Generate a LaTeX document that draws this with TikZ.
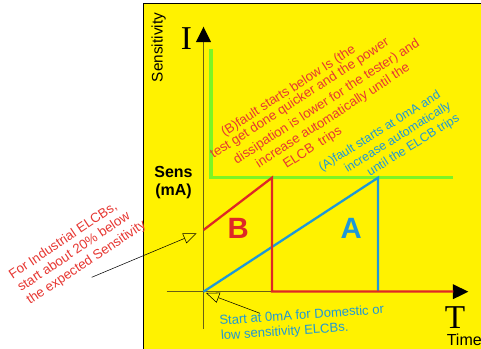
\documentclass[tikz,border=0pt]{standalone}
\usepackage{fontspec}
\setmainfont{Liberation Sans}
\newfontfamily\bigserif{Liberation Serif}
\usetikzlibrary{arrows.meta,positioning}
\definecolor{panel}{RGB}{255,242,0}
\definecolor{axisol}{RGB}{105,95,20}
\definecolor{limeg}{RGB}{125,245,35}
\definecolor{tracer}{RGB}{222,40,38}
\definecolor{traceb}{RGB}{30,152,215}
\definecolor{noter}{RGB}{230,55,50}
\tikzset{
  axis/.style      = {draw=axisol, line width=1.1pt,
                      -{Triangle[length=11.5pt, width=11pt, color=black]}},
  threshold/.style = {draw=limeg, line width=2.4pt},
  trB/.style       = {draw=tracer, line width=1.7pt},
  trA/.style       = {draw=traceb, line width=1.7pt},
  pointer/.style   = {draw=black, thin, -{Triangle[open, length=10pt, width=8pt]}},
  txtline/.style   = {anchor=base west, inner sep=0pt},
  bline/.style     = {txtline, text=noter, rotate=33, font=\fontsize{9.9}{11}\selectfont},
  aline/.style     = {txtline, text=traceb, rotate=32, font=\fontsize{9.3}{11}\selectfont},
  iline/.style     = {txtline, text=noter, rotate=33.8, font=\fontsize{10}{11}\selectfont},
  dline/.style     = {txtline, text=traceb, rotate=4, font=\fontsize{9.8}{11}\selectfont},
  big/.style       = {font=\bigserif\fontsize{25}{25}\selectfont, inner sep=0pt},
  tag/.style       = {font=\bfseries\fontsize{22}{22}\selectfont, inner sep=0pt},
}

\begin{document}
\begin{tikzpicture}[x=0.75pt, y=-0.75pt]
  \useasboundingbox (0,0) rectangle (481,349);
  \filldraw[fill=panel, draw=black, line width=0.6pt] (143.3,3.5) rectangle (485,353);

  \coordinate (o) at (203.5,291.7);
  \coordinate (ybot) at (203.5,329);
  \coordinate (ytop) at (203.5,26.7);
  \coordinate (xleft) at (166.7,291.7);
  \coordinate (xright) at (468.3,291.7);

  \draw[axis] (ybot) -- (ytop);
  \draw[axis] (xleft) -- (xright);

  \draw[threshold] (211,49.3) -- (211,177.7) -- (453.3,177.7);
  \draw[trA] (o) -- (378,177.7) -- (378,291.7);
  \draw[trB] (203.5,230) -- (272,177.7) -- (272,291.5) -- (453.3,291.5);

  \node[rotate=90, anchor=base, inner sep=0pt, font=\fontsize{11.5}{12}\selectfont] (sensy) at (162.5,47.5) {Sensitivity};
  \node[big] (ilab) at (186.5,39) {I};
  \node[big] (tlab) at (455,317.5) {T};
  \node[txtline, font=\fontsize{12}{12}\selectfont] (timel) at (446.5,345) {Time};
  \node[align=center, inner sep=0pt, font=\bfseries\fontsize{12}{13.5}\selectfont] (sens) at (173.5,182.5) {Sens\\(mA)};
  \node[tag, text=tracer] (blab) at (238.3,228.8) {B};
  \node[tag, text=traceb] (alab) at (351.3,228.8) {A};

  \node[bline] (bnote1) at (224.4,136.9) {(B)fault starts below Is (the};
  \node[bline] (bnote2) at (213.5,159) {test get done quicker and the power};
  \node[bline] (bnote3) at (236.7,164.5) {dissipation is lower for the tester) and};
  \node[bline] (bnote4) at (259,168.3) {increase automatically until the};
  \node[bline] (bnote5) at (286.4,169) {ELCB\ \ trips};

  \node[aline] (anote1) at (321.7,171.7) {(A)fault starts at 0mA and};
  \node[aline] (anote2) at (347.5,173) {increase automatically};
  \node[aline] (anote3) at (370,176.7) {until the ELCB trips};

  \node[iline] (indnote1) at (12.5,279.4) {For Industrial ELCBs,};
  \node[iline] (indnote2) at (21,292) {start about 20\% below};
  \node[iline] (indnote3) at (30,305) {the expected Sensitivity};

  \node[dline] (domnote1) at (219.5,325) {Start at 0mA for Domestic or};
  \node[dline] (domnote2) at (221,340) {low sensitivity ELCBs.};

  \coordinate (indtail) at (91.7,277.3);
  \coordinate (indtip) at (196.7,233.3);
  \coordinate (domtail) at (260,313.3);
  \coordinate (domtip) at (206,293);
  \draw[pointer] (indtail) -- (indtip);
  \draw[pointer] (domtail) -- (domtip);
\end{tikzpicture}
\end{document}
